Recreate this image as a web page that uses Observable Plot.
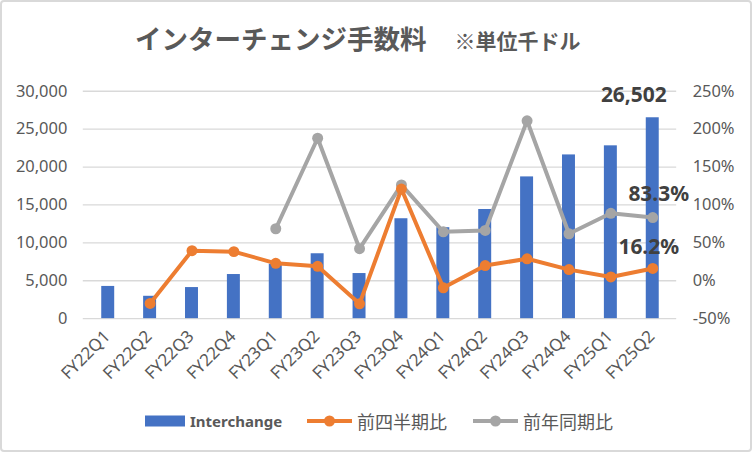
<!DOCTYPE html>
<html>
<head>
<meta charset="utf-8">
<script src="https://cdn.jsdelivr.net/npm/d3@7"></script>
<script src="https://cdn.jsdelivr.net/npm/@observablehq/plot@0.6"></script>
<style>
  body { margin: 0; background: #fff; }
  #wrap { position: relative; width: 748px; height: 448px; border: 2px solid #d9d9d9; border-radius: 4px; overflow: hidden; background: #fff; }
  #title { position: absolute; left: 133px; top: 16px; color: #595959; font-family: "Noto Sans CJK JP", sans-serif; font-weight: bold; white-space: nowrap; }
  #title .main { font-size: 26.5px; }
  #title .unit { font-size: 21px; margin-left: 28px; }
  #chart { position: absolute; left: -2px; top: -2px; }
  #legend { position: absolute; top: 406px; left: 0; width: 748px; height: 26px; font-family: "Noto Sans CJK JP", sans-serif; color: #595959; }
  .item { position: absolute; top: 0; height: 26px; display: flex; align-items: center; white-space: nowrap; }
</style>
</head>
<body>
<div id="wrap">
  <div id="title"><span class="main">インターチェンジ手数料</span><span class="unit">※単位千ドル</span></div>
  <div id="chart"></div>
  <div id="legend"></div>
</div>
<script>
const categories = ["FY22Q1","FY22Q2","FY22Q3","FY22Q4","FY23Q1","FY23Q2","FY23Q3","FY23Q4","FY24Q1","FY24Q2","FY24Q3","FY24Q4","FY25Q1","FY25Q2"];
const interchange = [4250, 2950, 4100, 5820, 7170, 8560, 5950, 13180, 12000, 14400, 18700, 21600, 22800, 26502];
const qoq = [null, -30, 39.7, 38.4, 23, 19, -30.4, 121, -9.3, 20, 29, 14.7, 5, 16.2];
const yoy = [null, null, null, null, 68.6, 188, 42.3, 126.4, 64.6, 66.4, 211, 62, 89, 83.3];
const leftTicks = [0, 5000, 10000, 15000, 20000, 25000, 30000];
const rightTicks = [-50, 0, 50, 100, 150, 200, 250];
const seriesNames = ["Interchange", "前四半期比", "前年同期比"];
const colors = ["#4472C4", "#ED7D31", "#A5A5A5"];

// map percentage onto the left (thousand-dollar) scale: -50% -> 0, 250% -> 30000
const pctToY = p => (p + 50) * 100;
const yToPct = v => v / 100 - 50;

const rows = categories.map((c, i) => ({cat: c, val: interchange[i], qoq: qoq[i], yoy: yoy[i]}));
const qoqRows = rows.filter(d => d.qoq != null);
const yoyRows = rows.filter(d => d.yoy != null);
const last = rows[rows.length - 1];

const plot = Plot.plot({
  width: 752,
  height: 395,
  marginTop: 91,
  marginBottom: 76,
  marginLeft: 83,
  marginRight: 74,
  style: {fontFamily: "'Noto Sans', 'Noto Sans CJK JP', sans-serif", background: "transparent", overflow: "visible"},
  x: {domain: categories, padding: 0, axis: null, label: null},
  y: {domain: [0, 30000], axis: null, label: null},
  marks: [
    Plot.gridY(leftTicks, {stroke: "#d9d9d9", strokeOpacity: 1, strokeWidth: 1.3}),
    Plot.axisY(leftTicks, {anchor: "left", label: null, tickSize: 0, tickPadding: 16, tickFormat: d3.format(","), fontSize: 16.5, color: "#595959"}),
    Plot.axisY(rightTicks.map(pctToY), {anchor: "right", label: null, tickSize: 0, tickPadding: 16, tickFormat: d => yToPct(d) + "%", fontSize: 16.5, color: "#595959"}),
    Plot.axisX(categories, {anchor: "bottom", label: null, tickSize: 0, tickPadding: 15, tickRotate: -45, fontSize: 17, color: "#595959", dx: -1}),
    Plot.barY(rows, {x: "cat", y: "val", fill: colors[0], insetLeft: 14.5, insetRight: 14.5}),
    Plot.line(yoyRows, {x: "cat", y: d => pctToY(d.yoy), stroke: colors[2], strokeWidth: 4}),
    Plot.dot(yoyRows, {x: "cat", y: d => pctToY(d.yoy), r: 5.5, fill: colors[2]}),
    Plot.line(qoqRows, {x: "cat", y: d => pctToY(d.qoq), stroke: colors[1], strokeWidth: 4}),
    Plot.dot(qoqRows, {x: "cat", y: d => pctToY(d.qoq), r: 5.5, fill: colors[1]}),
    Plot.text([last], {x: "cat", y: "val", text: d => d3.format(",")(d.val), dx: -19, dy: -23, fontSize: 21, fontWeight: "bold", fill: "#404040"}),
    Plot.text([last], {x: "cat", y: d => pctToY(d.yoy), text: d => d.yoy.toFixed(1) + "%", dx: 6, dy: -23, fontSize: 21, fontWeight: "bold", fill: "#404040"}),
    Plot.text([last], {x: "cat", y: d => pctToY(d.qoq), text: d => d.qoq.toFixed(1) + "%", dx: -4, dy: -21, fontSize: 21, fontWeight: "bold", fill: "#404040"})
  ]
});
document.getElementById("chart").appendChild(plot);

// legend
const legend = document.getElementById("legend");
const items = [
  {left: 143, type: "bar", color: colors[0], name: seriesNames[0], font: "bold 15px 'Noto Sans', sans-serif"},
  {left: 305, type: "line", color: colors[1], name: seriesNames[1], font: "18px 'Noto Sans CJK JP', sans-serif"},
  {left: 471, type: "line", color: colors[2], name: seriesNames[2], font: "18px 'Noto Sans CJK JP', sans-serif"}
];
for (const it of items) {
  const div = document.createElement("div");
  div.className = "item";
  div.style.left = it.left + "px";
  const ns = "http://www.w3.org/2000/svg";
  const svg = document.createElementNS(ns, "svg");
  svg.setAttribute("width", it.type === "bar" ? 44 : 48);
  svg.setAttribute("height", 14);
  if (it.type === "bar") {
    const r = document.createElementNS(ns, "rect");
    r.setAttribute("x", 0); r.setAttribute("y", 1.5); r.setAttribute("width", 40); r.setAttribute("height", 11);
    r.setAttribute("fill", it.color);
    svg.appendChild(r);
  } else {
    const l = document.createElementNS(ns, "line");
    l.setAttribute("x1", 0); l.setAttribute("x2", 45); l.setAttribute("y1", 7); l.setAttribute("y2", 7);
    l.setAttribute("stroke", it.color); l.setAttribute("stroke-width", 4);
    svg.appendChild(l);
    const c = document.createElementNS(ns, "circle");
    c.setAttribute("cx", 22.5); c.setAttribute("cy", 7); c.setAttribute("r", 5.5); c.setAttribute("fill", it.color);
    svg.appendChild(c);
  }
  div.appendChild(svg);
  const span = document.createElement("span");
  span.textContent = it.name;
  span.style.font = it.font;
  span.style.marginLeft = it.type === "bar" ? "1px" : "2px";
  div.appendChild(span);
  legend.appendChild(div);
}
</script>
</body>
</html>
